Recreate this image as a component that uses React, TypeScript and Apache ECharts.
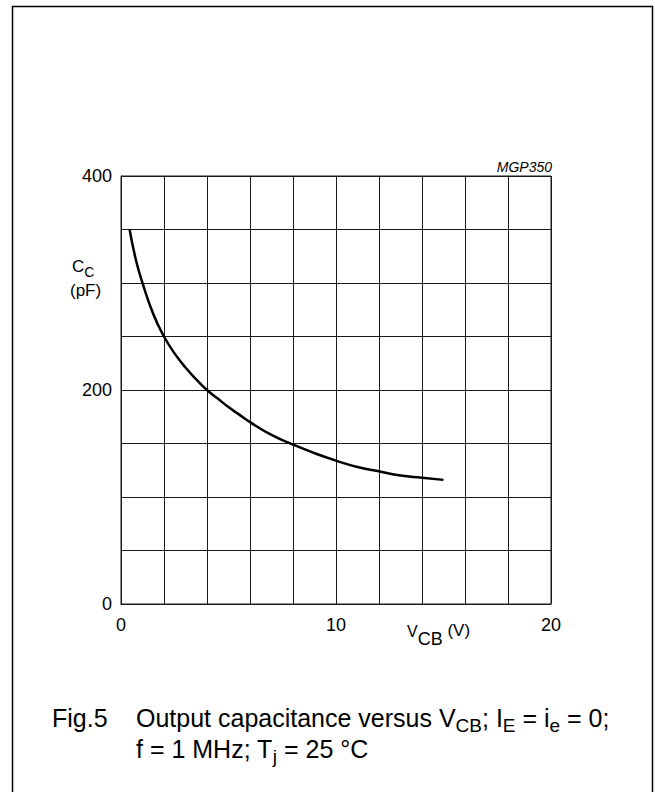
import React, { useEffect, useRef } from "react";
import * as echarts from "echarts";

const vcb = [0.4, 0.7, 1, 1.5, 2, 2.5, 3, 3.5, 4, 4.5, 5, 5.5, 6, 7, 8, 9, 10, 11, 12, 13, 14, 15];
const cc = [350, 321, 300, 271, 250, 234, 221, 210, 200, 192, 184, 177, 170, 158, 149, 141, 134, 128, 124, 120, 118, 116];
const xLabelValues = [0, 10, 20];
const yLabelValues = [0, 200, 400];

const FONT = '"Liberation Sans", Arial, Helvetica, sans-serif';

function measure(text: string, size: number, italic = false): number {
  const c = document.createElement("canvas").getContext("2d");
  if (!c) return text.length * size * 0.55;
  c.font = `${italic ? "italic " : ""}${size}px ${FONT}`;
  return c.measureText(text).width;
}

type Run = { t: string; s: number; dy?: number };

function runs(x: number, baseline: number, list: Run[]): any[] {
  const out: any[] = [];
  let cx = x;
  for (const r of list) {
    const b = baseline + (r.dy || 0);
    out.push({
      type: "text",
      x: cx,
      y: b - 0.35 * r.s,
      style: {
        text: r.t,
        fontSize: r.s,
        fontFamily: FONT,
        fill: "#000",
        align: "left",
        verticalAlign: "middle",
      },
    });
    cx += measure(r.t, r.s);
  }
  return out;
}

export default function App() {
  const ref = useRef<HTMLDivElement>(null);
  useEffect(() => {
    if (!ref.current) return;
    const chart = echarts.init(ref.current, undefined, { renderer: "svg" });
    const data = vcb.map((v, i) => [v, cc[i]]);
    const capSize = 25;
    const subSize = 19;
    const graphics: any[] = [
      {
        type: "rect",
        shape: { x: 12.5, y: 6.5, width: 640, height: 800 },
        style: { fill: "none", stroke: "#000", lineWidth: 1.5 },
        silent: true,
      },
      {
        type: "text",
        x: 552,
        y: 167,
        style: {
          text: "MGP350",
          fontSize: 14,
          fontStyle: "italic",
          fontFamily: FONT,
          fill: "#000",
          align: "right",
          verticalAlign: "middle",
        },
      },
      ...runs(72, 272, [
        { t: "C", s: 17 },
        { t: "C", s: 14, dy: 5 },
      ]),
      ...runs(70, 296, [{ t: "(pF)", s: 17 }]),
      ...runs(407, 637, [
        { t: "V", s: 16 },
        { t: "CB", s: 18, dy: 8 },
        { t: " (V)", s: 17, dy: -1 },
      ]),
      ...runs(52, 727, [{ t: "Fig.5", s: capSize }]),
      ...runs(136, 727, [
        { t: "Output capacitance versus V", s: capSize },
        { t: "CB", s: subSize, dy: 5 },
        { t: "; I", s: capSize },
        { t: "E", s: subSize, dy: 5 },
        { t: " = i", s: capSize },
        { t: "e", s: subSize, dy: 5 },
        { t: " = 0;", s: capSize },
      ]),
      ...runs(136, 758, [
        { t: "f = 1 MHz; T", s: capSize },
        { t: "j", s: subSize, dy: 5 },
        { t: " = 25 \u00B0C", s: capSize },
      ]),
    ];
    chart.setOption({
      animation: false,
      backgroundColor: "#fff",
      grid: {
        left: 121,
        top: 176,
        width: 430,
        height: 428,
        show: true,
        borderColor: "#1a1a1a",
        borderWidth: 1,
        containLabel: false,
      },
      xAxis: {
        type: "value",
        min: 0,
        max: 20,
        interval: 2,
        axisLine: { show: true, lineStyle: { color: "#1a1a1a", width: 1 } },
        axisTick: { show: false },
        splitLine: { show: true, lineStyle: { color: "#1a1a1a", width: 1 } },
        axisLabel: {
          margin: 12,
          fontSize: 18,
          fontFamily: FONT,
          color: "#000",
          formatter: (v: number) => (xLabelValues.includes(v) ? String(v) : ""),
        },
      },
      yAxis: {
        type: "value",
        min: 0,
        max: 400,
        interval: 50,
        axisLine: { show: true, lineStyle: { color: "#1a1a1a", width: 1 } },
        axisTick: { show: false },
        splitLine: { show: true, lineStyle: { color: "#1a1a1a", width: 1 } },
        axisLabel: {
          margin: 9,
          fontSize: 18,
          fontFamily: FONT,
          color: "#000",
          formatter: (v: number) => (yLabelValues.includes(v) ? String(v) : ""),
        },
      },
      series: [
        {
          type: "line",
          data,
          smooth: 0.5,
          showSymbol: false,
          lineStyle: { color: "#000", width: 2.5 },
        },
      ],
      graphic: graphics,
    });
    return () => chart.dispose();
  }, []);
  return (
    <div
      ref={ref}
      style={{ position: "absolute", left: 0, top: 0, width: 655, height: 792 }}
    />
  );
}
